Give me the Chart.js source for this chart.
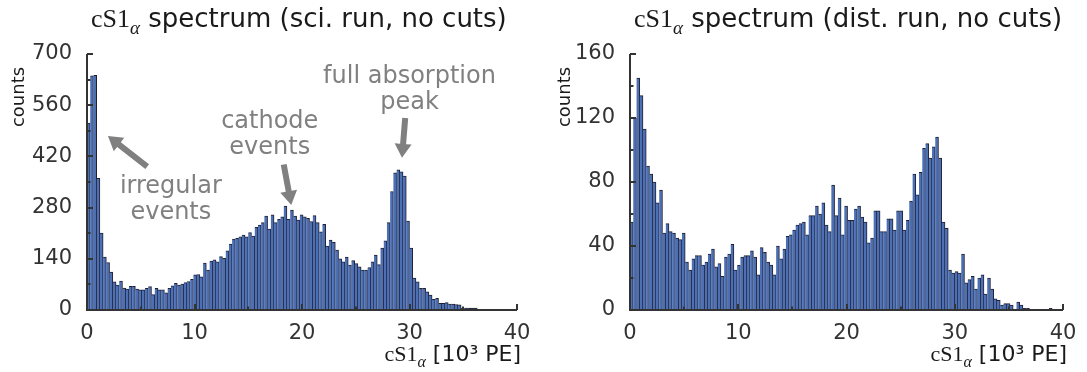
<!DOCTYPE html>
<html>
<head>
<meta charset="utf-8">
<script src="https://cdn.jsdelivr.net/npm/chart.js@4.4.1/dist/chart.umd.min.js"></script>
<style>
  body { margin: 0; background: #fff; }
  .wrap { position: relative; width: 1087px; height: 372px; }
  canvas { position: absolute; top: 0; }
  #sci { left: 0; }
  #dist { left: 543px; }
</style>
</head>
<body>
<div class="wrap">
  <canvas id="sci" width="543" height="372"></canvas>
  <canvas id="dist" width="544" height="372"></canvas>
</div>
<script>
// histogram binning, in 10^3 PE
var binWidth = 0.3;

// counts per bin, science run
var sciCounts = [
  511, 640, 642, 360, 210, 145, 130, 104, 77, 68,
  79, 60, 57, 65, 65, 57, 55, 55, 59, 64,
  42, 59, 55, 55, 47, 59, 66, 73, 68, 71,
  75, 78, 84, 96, 97, 91, 128, 109, 134, 137,
  132, 146, 141, 162, 180, 194, 196, 200, 205, 200,
  212, 202, 226, 232, 239, 257, 221, 260, 239, 248,
  255, 284, 248, 273, 257, 246, 260, 255, 251, 242,
  258, 239, 214, 234, 175, 191, 185, 164, 140, 132,
  145, 123, 135, 127, 118, 109, 109, 116, 132, 150,
  124, 169, 189, 239, 324, 375, 383, 378, 366, 243,
  169, 87, 77, 59, 59, 50, 41, 29, 32, 18,
  18, 20, 16, 16, 15, 14, 5, 5, 5, 5,
  5, 2, 2, 2, 1, 1, 1, 0, 1, 0,
  1, 0, 1
];

// counts per bin, distance run
var distCounts = [
  55, 120, 145, 134, 113, 90, 85, 80, 67, 75,
  48, 54, 49, 48, 45, 44, 48, 30, 25, 32,
  34, 34, 28, 30, 35, 38, 27, 29, 21, 33,
  35, 41, 25, 28, 33, 34, 34, 37, 33, 22,
  39, 36, 30, 28, 22, 40, 32, 38, 46, 47,
  50, 53, 54, 55, 47, 59, 59, 65, 60, 67,
  53, 49, 78, 59, 70, 47, 65, 56, 56, 63,
  65, 58, 55, 42, 45, 62, 62, 49, 49, 57,
  57, 50, 62, 62, 50, 56, 68, 85, 72, 86,
  101, 104, 95, 102, 108, 95, 55, 51, 25, 23,
  24, 23, 35, 17, 19, 21, 13, 20, 22, 10,
  20, 13, 7, 6, 3, 4, 4, 3, 0, 5,
  3, 1, 1, 0, 0, 0, 0, 0, 0, 1,
  0, 0, 0
];

var xTicks = [0, 10, 20, 30, 40];
var sciYTicks = [0, 140, 280, 420, 560, 700];
var distYTicks = [0, 40, 80, 120, 160];

var sciNotes = [
  { lines: ["full absorption", "peak"], x: 30.0, y: 637, from: [29.6, 525], to: [29.3, 416] },
  { lines: ["cathode", "events"], x: 17.0, y: 514, from: [18.3, 398], to: [19.0, 287] },
  { lines: ["irregular", "events"], x: 7.8, y: 336, from: [5.6, 392], to: [1.95, 476] }
];

var barFill = "#4c70b3";
var barEdge = "rgba(20,20,40,0.95)";
var axisColor = "#333333";
var noteColor = "#808080";

function toPoints(counts){
  return counts.map(function(c, i){ return { x: binWidth * (i + 0.5), y: c }; });
}

function mathLabel(ctx, x, y, size, rest, alignRight){
  // "cS1" upright serif with an alpha subscript, then sans text
  var serif = size + "px 'Liberation Serif'";
  var sub = "italic " + Math.round(size * 0.72) + "px 'Liberation Serif'";
  var sans = size + "px 'DejaVu Sans'";
  ctx.font = serif; var w1 = ctx.measureText("cS1").width;
  ctx.font = sub; var w2 = ctx.measureText("\u03b1").width;
  ctx.font = sans; var w3 = ctx.measureText(rest).width;
  var start = alignRight ? x - (w1 + w2 + w3) : x;
  ctx.textAlign = "left";
  ctx.textBaseline = "alphabetic";
  ctx.font = serif; ctx.fillText("cS1", start, y);
  ctx.font = sub; ctx.fillText("\u03b1", start + w1, y + size * 0.28);
  ctx.font = sans; ctx.fillText(rest, start + w1 + w2, y);
}

function arrow(ctx, x1, y1, x2, y2){
  var dx = x2 - x1, dy = y2 - y1;
  var len = Math.sqrt(dx * dx + dy * dy);
  var ux = dx / len, uy = dy / len;
  var nx = -uy, ny = ux;
  var head = 14, hw = 8.5, sw = 3;
  var bx = x2 - ux * head, by = y2 - uy * head;
  ctx.beginPath();
  ctx.moveTo(x1 + nx * sw, y1 + ny * sw);
  ctx.lineTo(bx + nx * sw, by + ny * sw);
  ctx.lineTo(bx + nx * hw, by + ny * hw);
  ctx.lineTo(x2, y2);
  ctx.lineTo(bx - nx * hw, by - ny * hw);
  ctx.lineTo(bx - nx * sw, by - ny * sw);
  ctx.lineTo(x1 - nx * sw, y1 - ny * sw);
  ctx.closePath();
  ctx.fill();
}

var framePlugin = {
  id: "frame",
  afterDraw: function(chart){
    var o = chart.options.plugins.frame;
    var ctx = chart.ctx;
    var a = chart.chartArea;
    var xs = chart.scales.x, ys = chart.scales.y;
    ctx.save();

    // inward tick marks
    ctx.strokeStyle = axisColor;
    ctx.lineWidth = 2;
    ys.ticks.forEach(function(t){
      var py = Math.round(ys.getPixelForValue(t.value));
      var major = o.yMajor.indexOf(t.value) >= 0;
      ctx.beginPath();
      ctx.moveTo(a.left, py);
      ctx.lineTo(a.left + (major ? 6 : 3.5), py);
      ctx.stroke();
    });
    xs.ticks.forEach(function(t){
      var px = Math.round(xs.getPixelForValue(t.value));
      var major = xTicks.indexOf(t.value) >= 0;
      ctx.beginPath();
      ctx.moveTo(px, a.bottom);
      ctx.lineTo(px, a.bottom - (major ? 6 : 3.5));
      ctx.stroke();
    });

    // spines
    ctx.beginPath();
    ctx.moveTo(a.left, a.bottom + 1);
    ctx.lineTo(a.left, a.top);
    ctx.moveTo(a.left - 1, a.bottom);
    ctx.lineTo(a.right, a.bottom);
    ctx.stroke();

    // titles and axis labels
    ctx.fillStyle = "#1a1a1a";
    mathLabel(ctx, a.left + 4, 27, 26, " spectrum (" + o.run + ", no cuts)", false);
    mathLabel(ctx, a.right + 4, 361, 22, " [10\u00b3 PE]", true);
    ctx.save();
    ctx.translate(o.yLabelX, a.top + 43);
    ctx.rotate(-Math.PI / 2);
    ctx.font = "18px 'DejaVu Sans'";
    ctx.textAlign = "center";
    ctx.textBaseline = "middle";
    ctx.fillText("counts", 0, 0);
    ctx.restore();

    // annotations
    ctx.fillStyle = noteColor;
    ctx.font = "24px 'DejaVu Sans'";
    ctx.textAlign = "center";
    ctx.textBaseline = "middle";
    (o.notes || []).forEach(function(n){
      var cx = xs.getPixelForValue(n.x), cy = ys.getPixelForValue(n.y);
      n.lines.forEach(function(line, k){ ctx.fillText(line, cx, cy + k * 26); });
      arrow(ctx, xs.getPixelForValue(n.from[0]), ys.getPixelForValue(n.from[1]),
                 xs.getPixelForValue(n.to[0]), ys.getPixelForValue(n.to[1]));
    });
    ctx.restore();
  }
};

function histogram(id, counts, yTicks, yStep, run, rightPad, yLabelX, notes){
  var yMax = yTicks[yTicks.length - 1];
  return new Chart(document.getElementById(id), {
    type: "bar",
    data: {
      datasets: [{
        data: toPoints(counts),
        backgroundColor: barFill,
        borderColor: barEdge,
        borderWidth: { top: 1, right: 1, left: 0, bottom: 0 },
        borderSkipped: false,
        barPercentage: 1,
        categoryPercentage: 1
      }]
    },
    options: {
      responsive: false,
      animation: false,
      devicePixelRatio: 1,
      layout: { padding: { left: 0, top: 54, right: rightPad, bottom: 0 } },
      plugins: {
        legend: { display: false },
        tooltip: { enabled: false },
        frame: { run: run, yMajor: yTicks, yLabelX: yLabelX, notes: notes }
      },
      scales: {
        x: {
          type: "linear", min: 0, max: 40, offset: false,
          grid: { display: false }, border: { display: false },
          ticks: {
            stepSize: 5, autoSkip: false, maxRotation: 0, padding: 3,
            color: axisColor, font: { family: "DejaVu Sans", size: 21 },
            callback: function(v){ return xTicks.indexOf(v) >= 0 ? v : ""; }
          },
          afterFit: function(s){ s.height = 62; }
        },
        y: {
          min: 0, max: yMax,
          grid: { display: false }, border: { display: false },
          ticks: {
            stepSize: yStep, autoSkip: false, padding: 7,
            color: axisColor, font: { family: "DejaVu Sans", size: 21 },
            callback: function(v){ return yTicks.indexOf(v) >= 0 ? v : ""; }
          },
          afterFit: function(s){ s.width = 87; }
        }
      }
    },
    plugins: [framePlugin]
  });
}

histogram("sci", sciCounts, sciYTicks, 70, "sci. run", 26, 19, sciNotes);
histogram("dist", distCounts, distYTicks, 20, "dist. run", 24, 22, []);
</script>
</body>
</html>
